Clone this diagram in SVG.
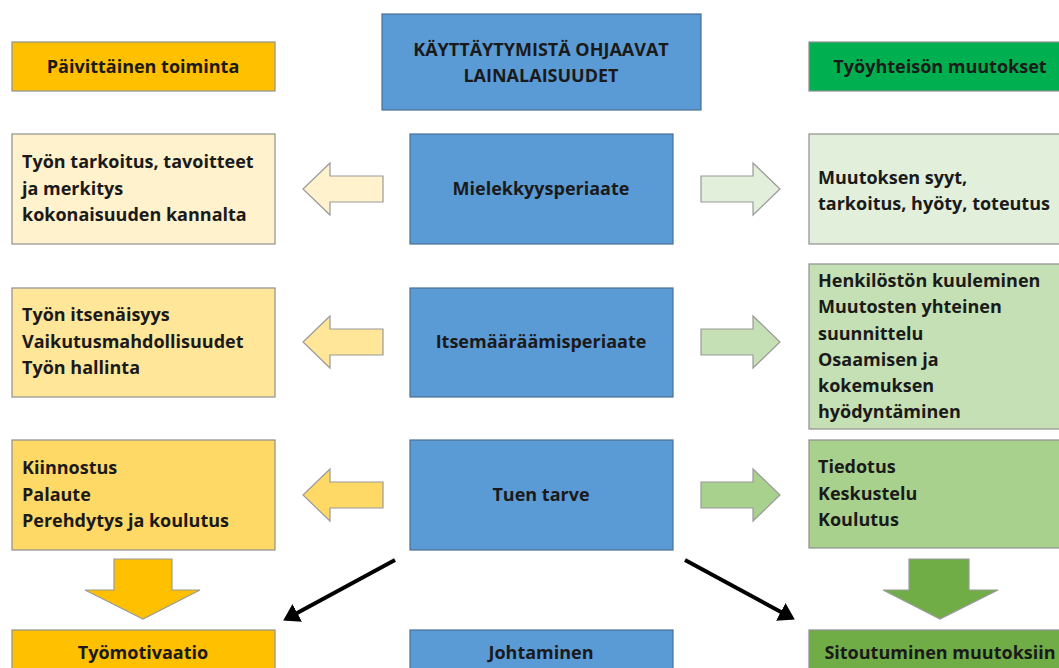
<svg xmlns="http://www.w3.org/2000/svg" width="1059" height="668" viewBox="0 0 1059 668">
<style>
.box{stroke:#8f8f8f;stroke-width:1.2}
.blue{fill:#5B9BD5;stroke:#4a6f95;stroke-width:1.2}
.t{font-family:"Open Sans","Noto Sans",sans-serif;font-weight:bold;font-size:18px;fill:#1a1a1a}
.c{text-anchor:middle}
.arr{stroke:#9a9a9a;stroke-width:1.2}
.con{stroke:#000;stroke-width:4;fill:none;marker-end:url(#ah)}
</style>
<defs>
<marker id="ah" markerWidth="5" markerHeight="5" refX="3.2" refY="2.5" orient="auto" markerUnits="strokeWidth">
<path d="M0,0 L4,2.5 L0,5 z" fill="#000"/>
</marker>
</defs>
<rect width="1059" height="668" fill="#fff"/>

<g id="hdr-left"><rect class="box" x="12" y="42" width="263" height="49" fill="#FFC000"/><text class="t c" x="143" y="73">Päivittäinen toiminta</text></g>
<g id="title"><rect class="blue" x="382" y="14" width="319" height="96"/><text class="t c" x="541" y="56">KÄYTTÄYTYMISTÄ OHJAAVAT</text><text class="t c" x="541" y="82">LAINALAISUUDET</text></g>
<g id="hdr-right"><rect class="box" x="809" y="42" width="263" height="49" fill="#00B050"/><text class="t c" x="940" y="73">Työyhteisön muutokset</text></g>

<g id="left1"><rect class="box" x="12" y="134" width="263" height="110" fill="#FFF2CC"/><text class="t" x="22" y="168">Työn tarkoitus, tavoitteet</text><text class="t" x="22" y="195">ja merkitys</text><text class="t" x="22" y="221">kokonaisuuden kannalta</text></g>
<g id="left2"><rect class="box" x="12" y="288" width="263" height="109" fill="#FFE699"/><text class="t" x="22" y="321">Työn itsenäisyys</text><text class="t" x="22" y="348">Vaikutusmahdollisuudet</text><text class="t" x="22" y="374">Työn hallinta</text></g>
<g id="left3"><rect class="box" x="12" y="440" width="263" height="110" fill="#FFD966"/><text class="t" x="22" y="474">Kiinnostus</text><text class="t" x="22" y="501">Palaute</text><text class="t" x="22" y="527">Perehdytys ja koulutus</text></g>
<g id="left-bottom"><rect class="box" x="12" y="630" width="263" height="50" fill="#FFC000"/><text class="t c" x="143" y="659">Työmotivaatio</text></g>

<g id="center1"><rect class="blue" x="410" y="134" width="263" height="110"/><text class="t c" x="541" y="195">Mielekkyysperiaate</text></g>
<g id="center2"><rect class="blue" x="410" y="288" width="263" height="109"/><text class="t c" x="541" y="348">Itsemääräämisperiaate</text></g>
<g id="center3"><rect class="blue" x="410" y="440" width="263" height="110"/><text class="t c" x="541" y="501">Tuen tarve</text></g>
<g id="center-bottom"><rect class="blue" x="410" y="630" width="263" height="50"/><text class="t c" x="541" y="659">Johtaminen</text></g>

<g id="right1"><rect class="box" x="809" y="134" width="263" height="110" fill="#E2EFDA"/><text class="t" x="818" y="184">Muutoksen syyt,</text><text class="t" x="818" y="210">tarkoitus, hyöty, toteutus</text></g>
<g id="right2"><rect class="box" x="809" y="264" width="263" height="165" fill="#C5E0B4"/><text class="t" x="818" y="287">Henkilöstön kuuleminen</text><text class="t" x="818" y="313">Muutosten yhteinen</text><text class="t" x="818" y="340">suunnittelu</text><text class="t" x="818" y="366">Osaamisen ja</text><text class="t" x="818" y="392">kokemuksen</text><text class="t" x="818" y="418">hyödyntäminen</text></g>
<g id="right3"><rect class="box" x="809" y="440" width="263" height="108" fill="#A9D18E"/><text class="t" x="818" y="473">Tiedotus</text><text class="t" x="818" y="500">Keskustelu</text><text class="t" x="818" y="526">Koulutus</text></g>
<g id="right-bottom"><rect class="box" x="809" y="630" width="263" height="50" fill="#70AD47"/><text class="t c" x="940" y="659">Sitoutuminen muutoksiin</text></g>

<g id="connectors">
<path class="arr" fill="#FFF2CC" d="M383,176 H330 V163 L303,189 L330,215 V202 H383 Z"/>
<path class="arr" fill="#FFE699" d="M383,329 H330 V316 L303,342 L330,368 V355 H383 Z"/>
<path class="arr" fill="#FFD966" d="M383,482 H330 V469 L303,495 L330,521 V508 H383 Z"/>
<path class="arr" fill="#E2EFDA" d="M701,176 H753 V163 L780,189 L753,215 V202 H701 Z"/>
<path class="arr" fill="#C5E0B4" d="M701,329 H753 V316 L780,342 L753,368 V355 H701 Z"/>
<path class="arr" fill="#A9D18E" d="M701,482 H753 V469 L780,495 L753,521 V508 H701 Z"/>
<path class="arr" fill="#FFC000" d="M114,559 H172 V590 H200 L143,619 L85,590 H114 Z"/>
<path class="arr" fill="#70AD47" d="M909,559 H969 V590 H998 L940,619 L883,590 H909 Z"/>
<line class="con" x1="395" y1="560" x2="286" y2="619"/>
<line class="con" x1="685" y1="560" x2="792" y2="618"/>
</g>
</svg>
